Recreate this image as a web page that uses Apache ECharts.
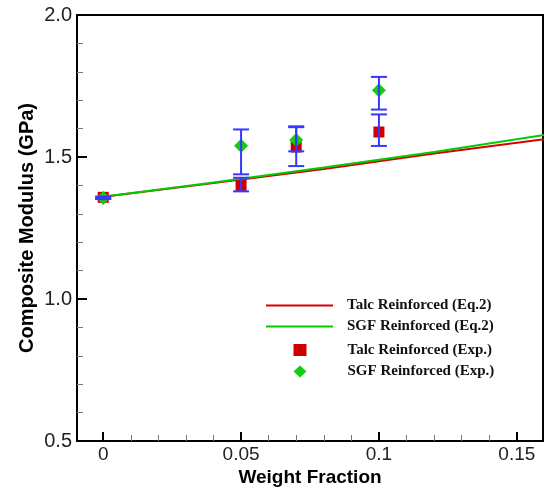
<!DOCTYPE html>
<html>
<head>
<meta charset="utf-8">
<script src="https://cdn.jsdelivr.net/npm/echarts@6/dist/echarts.min.js"></script>
<style>html,body{margin:0;padding:0;background:#fff}#c{width:549px;height:492px}</style>
</head>
<body>
<div id="c"></div>
<script>
// ---- data ----
const eqFraction = [0, 0.04, 0.08, 0.12, 0.16];
const talcEq = [1.36, 1.408, 1.458, 1.512, 1.563];
const sgfEq = [1.36, 1.41, 1.463, 1.518, 1.578];

const expFraction = [0, 0.05, 0.07, 0.1];
const talcExp = [1.358, 1.40, 1.535, 1.588];
const sgfExp = [1.356, 1.54, 1.56, 1.735];
const talcLow = [1.352, 1.379, 1.468, 1.539];
const talcHigh = [1.360, 1.427, 1.605, 1.650];
const sgfLow = [1.352, 1.439, 1.520, 1.667];
const sgfHigh = [1.360, 1.597, 1.608, 1.782];

const xMajorTicks = [0, 0.05, 0.1, 0.15];
const xMinorTicks = [0.01, 0.02, 0.03, 0.04, 0.06, 0.07, 0.08, 0.09, 0.11, 0.12, 0.13, 0.14];
const seriesNames = ['Talc Reinforced (Eq.2)', 'SGF Reinforced (Eq.2)', 'Talc Reinforced (Exp.)', 'SGF Reinforced (Exp.)'];

// ---- build ----
const pairs = (xs, ys) => xs.map((x, i) => [x, ys[i]]);
const errData = [];
expFraction.forEach((x, i) => { errData.push([x, talcLow[i], talcHigh[i]]); errData.push([x, sgfLow[i], sgfHigh[i]]); });

const RED = '#d80000', GREEN = '#00cc00', BLUE = '#3737ff';
const XMIN = -0.0095, XMAX = 0.1595;
const legendText = {fontFamily: 'Liberation Serif', fontWeight: 'bold', fontSize: 15, color: '#111', lineHeight: 15};

const chart = echarts.init(document.getElementById('c'), null, {renderer: 'canvas'});
chart.setOption({
  animation: false,
  backgroundColor: '#fff',
  grid: {left: 77, right: 6, top: 15, bottom: 50, show: true, borderColor: '#000', borderWidth: 2, backgroundColor: 'transparent'},
  xAxis: [{
    type: 'value', min: XMIN, max: XMAX, position: 'bottom',
    name: 'Weight Fraction', nameLocation: 'middle', nameGap: 27, nameMoveOverlap: false,
    nameTextStyle: {fontFamily: 'Liberation Sans', fontWeight: 'bold', fontSize: 19, color: '#000'},
    axisLine: {show: true, onZero: false, lineStyle: {color: '#000', width: 2}},
    axisTick: {show: true, inside: true, length: 9, lineStyle: {color: '#000', width: 2}, customValues: xMajorTicks},
    axisLabel: {show: true, margin: 4, fontFamily: 'Liberation Sans', fontSize: 19, color: '#222', customValues: xMajorTicks, formatter: v => String(v)},
    splitLine: {show: false}
  }, {
    type: 'value', min: XMIN, max: XMAX, position: 'bottom',
    axisLine: {show: false, onZero: false},
    axisTick: {show: true, inside: true, length: 6, lineStyle: {color: '#777', width: 1}, customValues: xMinorTicks},
    axisLabel: {show: false},
    splitLine: {show: false}
  }],
  yAxis: {
    type: 'value', min: 0.5, max: 2.0, interval: 0.5,
    name: 'Composite Modulus (GPa)', nameLocation: 'middle', nameGap: 40, nameMoveOverlap: false,
    nameTextStyle: {fontFamily: 'Liberation Sans', fontWeight: 'bold', fontSize: 20, color: '#000'},
    axisLine: {show: true, onZero: false, lineStyle: {color: '#000', width: 2}},
    axisTick: {show: true, inside: true, length: 10, lineStyle: {color: '#000', width: 2}},
    minorTick: {show: true, splitNumber: 5, length: 6, lineStyle: {color: '#777', width: 1}},
    axisLabel: {show: true, margin: 5, fontFamily: 'Liberation Sans', fontSize: 20, color: '#222', formatter: v => v.toFixed(1)},
    splitLine: {show: false}
  },
  legend: [{
    orient: 'vertical', left: 266, top: 298, padding: 0,
    itemWidth: 67, itemHeight: 2, itemGap: 6, icon: 'rect',
    data: seriesNames.slice(0, 2),
    textStyle: Object.assign({padding: [0, 0, 0, 9]}, legendText)
  }, {
    orient: 'vertical', left: 293.5, top: 342.5, padding: 0,
    itemWidth: 13, itemHeight: 12, itemGap: 6.5,
    data: seriesNames.slice(2, 4),
    textStyle: Object.assign({padding: [0, 0, 0, 36]}, legendText)
  }],
  series: [
    {name: seriesNames[0], type: 'line', data: pairs(eqFraction, talcEq), symbol: 'none', lineStyle: {color: RED, width: 2}, itemStyle: {color: RED}, z: 2},
    {name: seriesNames[1], type: 'line', data: pairs(eqFraction, sgfEq), symbol: 'none', lineStyle: {color: GREEN, width: 2}, itemStyle: {color: GREEN}, z: 3},
    {name: seriesNames[2], type: 'scatter', data: pairs(expFraction, talcExp), symbol: 'rect', symbolSize: 11, itemStyle: {color: '#cc0000', opacity: 1}, z: 4},
    {name: seriesNames[3], type: 'scatter', data: pairs(expFraction, sgfExp), symbol: 'diamond', symbolSize: 14, itemStyle: {color: '#11cc11', opacity: 1}, z: 5},
    {
      type: 'custom', z: 6, data: errData,
      renderItem: function (params, api) {
        const x = api.value(0);
        const lo = api.coord([x, api.value(1)]);
        const hi = api.coord([x, api.value(2)]);
        const hw = 8;
        const st = {stroke: BLUE, lineWidth: 2};
        return {type: 'group', children: [
          {type: 'line', shape: {x1: lo[0], y1: lo[1], x2: hi[0], y2: hi[1]}, style: st},
          {type: 'line', shape: {x1: lo[0] - hw, y1: lo[1], x2: lo[0] + hw, y2: lo[1]}, style: st},
          {type: 'line', shape: {x1: hi[0] - hw, y1: hi[1], x2: hi[0] + hw, y2: hi[1]}, style: st}
        ]};
      }
    }
  ]
});
</script>
</body>
</html>
